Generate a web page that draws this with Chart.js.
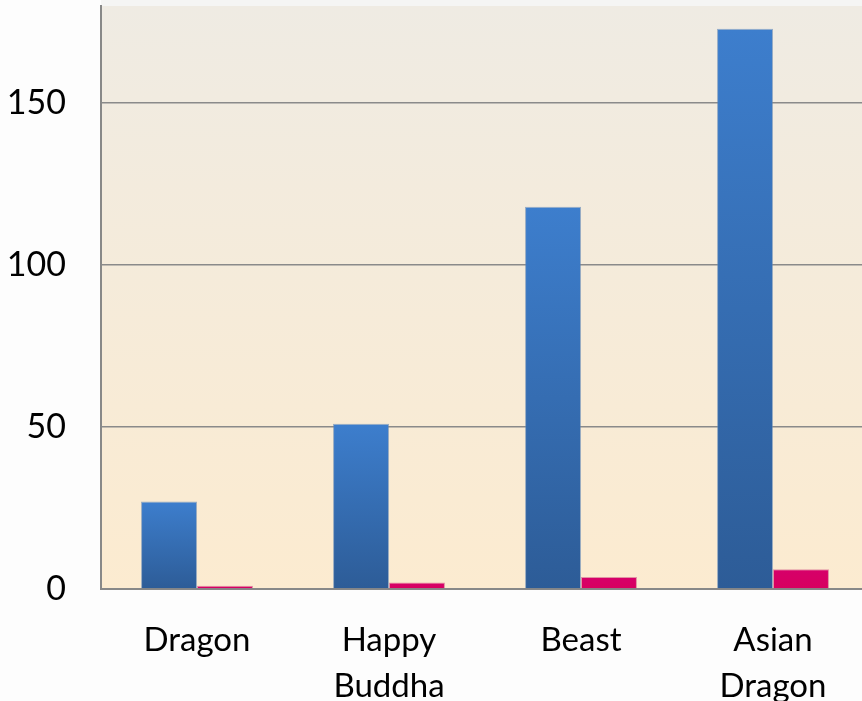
<!DOCTYPE html>
<html lang="en">
  <head>
    <meta charset="utf-8" />
    <title>Bars</title>
    <style>
      html, body { margin: 0; padding: 0; overflow: hidden; background: #fdfdfd; }
      #chart { display: block; }
    </style>
  </head>
  <body>
    <canvas id="chart" width="870" height="701"></canvas>
    <script src="https://cdn.jsdelivr.net/npm/chart.js@4.4.1/dist/chart.umd.min.js"></script>
    <script>
      const categories = [['Dragon'], ['Happy', 'Buddha'], ['Beast'], ['Asian', 'Dragon']];
      const blueValues = [27, 51, 118, 173];
      const pinkValues = [1, 2, 3.7, 6.1];
      const yTicks = [0, 50, 100, 150];

      // vertical gradient per bar, from the bar top down to zero
      function barGradient(ctx, top, bottom) {
        const chart = ctx.chart;
        const y = chart.scales.y;
        if (!y || !chart.chartArea) return top;
        const v = ctx.raw;
        const y0 = y.getPixelForValue(0);
        const y1 = y.getPixelForValue(v);
        if (!isFinite(y0) || !isFinite(y1) || y0 === y1) return top;
        const g = chart.ctx.createLinearGradient(0, y1, 0, y0);
        g.addColorStop(0, top);
        g.addColorStop(1, bottom);
        return g;
      }

      const plotBackground = {
        id: 'plotBackground',
        beforeDraw(chart) {
          const { ctx, chartArea: a } = chart;
          const g = ctx.createLinearGradient(0, a.top, 0, a.bottom);
          g.addColorStop(0, '#efebe3');
          g.addColorStop(1, '#fcebd0');
          ctx.save();
          ctx.fillStyle = '#f5f5f4';
          ctx.fillRect(a.left, 0, a.right - a.left, a.top);
          ctx.fillStyle = g;
          ctx.fillRect(a.left, a.top, a.right - a.left, a.bottom - a.top);
          ctx.restore();
        },
      };

      new Chart(document.getElementById('chart'), {
        type: 'bar',
        data: {
          labels: categories,
          datasets: [
            {
              data: blueValues,
              backgroundColor: (c) => barGradient(c, '#3d7ecd', '#2d5c97'),
              borderColor: 'rgba(90,130,180,0.6)',
              borderWidth: 1,
              borderSkipped: 'bottom',
            },
            {
              data: pinkValues,
              backgroundColor: (c) => barGradient(c, '#d6006a', '#d8005f'),
              borderColor: 'rgba(200,60,120,0.5)',
              borderWidth: 1,
              borderSkipped: 'bottom',
            },
          ],
        },
        options: {
          responsive: false,
          animation: false,
          devicePixelRatio: 1,
          layout: { padding: { top: 6, right: 1, left: 0, bottom: 0 } },
          plugins: { legend: { display: false }, tooltip: { enabled: false } },
          datasets: { bar: { barPercentage: 1, categoryPercentage: 0.583 } },
          scales: {
            x: {
              grid: { display: false, drawTicks: false },
              border: { display: true, color: '#888888', width: 2 },
              ticks: {
                color: '#000000',
                font: { family: 'Lato', size: 33, lineHeight: 1.4 },
                padding: 28,
                maxRotation: 0,
                autoSkip: false,
              },
              afterFit(s) {
                s.height = 112;
                s.paddingLeft = 0; s.paddingRight = 0;
              },
            },
            y: {
              min: 0,
              max: 180,
              afterBuildTicks(s) { s.ticks = yTicks.map((v) => ({ value: v })); },
              grid: {
                color: (c) => (c.tick && c.tick.value === 0 ? 'rgba(0,0,0,0)' : '#8a8a8a'),
                lineWidth: 1.5,
                drawTicks: false,
              },
              border: { display: true, color: '#888888', width: 2 },
              ticks: {
                color: '#000000',
                font: { family: 'Lato', size: 34 },
                padding: 35,
              },
              afterFit(s) {
                s.width = 101;
                s.paddingTop = 0; s.paddingBottom = 0;
              },
            },
          },
        },
        plugins: [plotBackground],
      });
    </script>
  </body>
</html>
